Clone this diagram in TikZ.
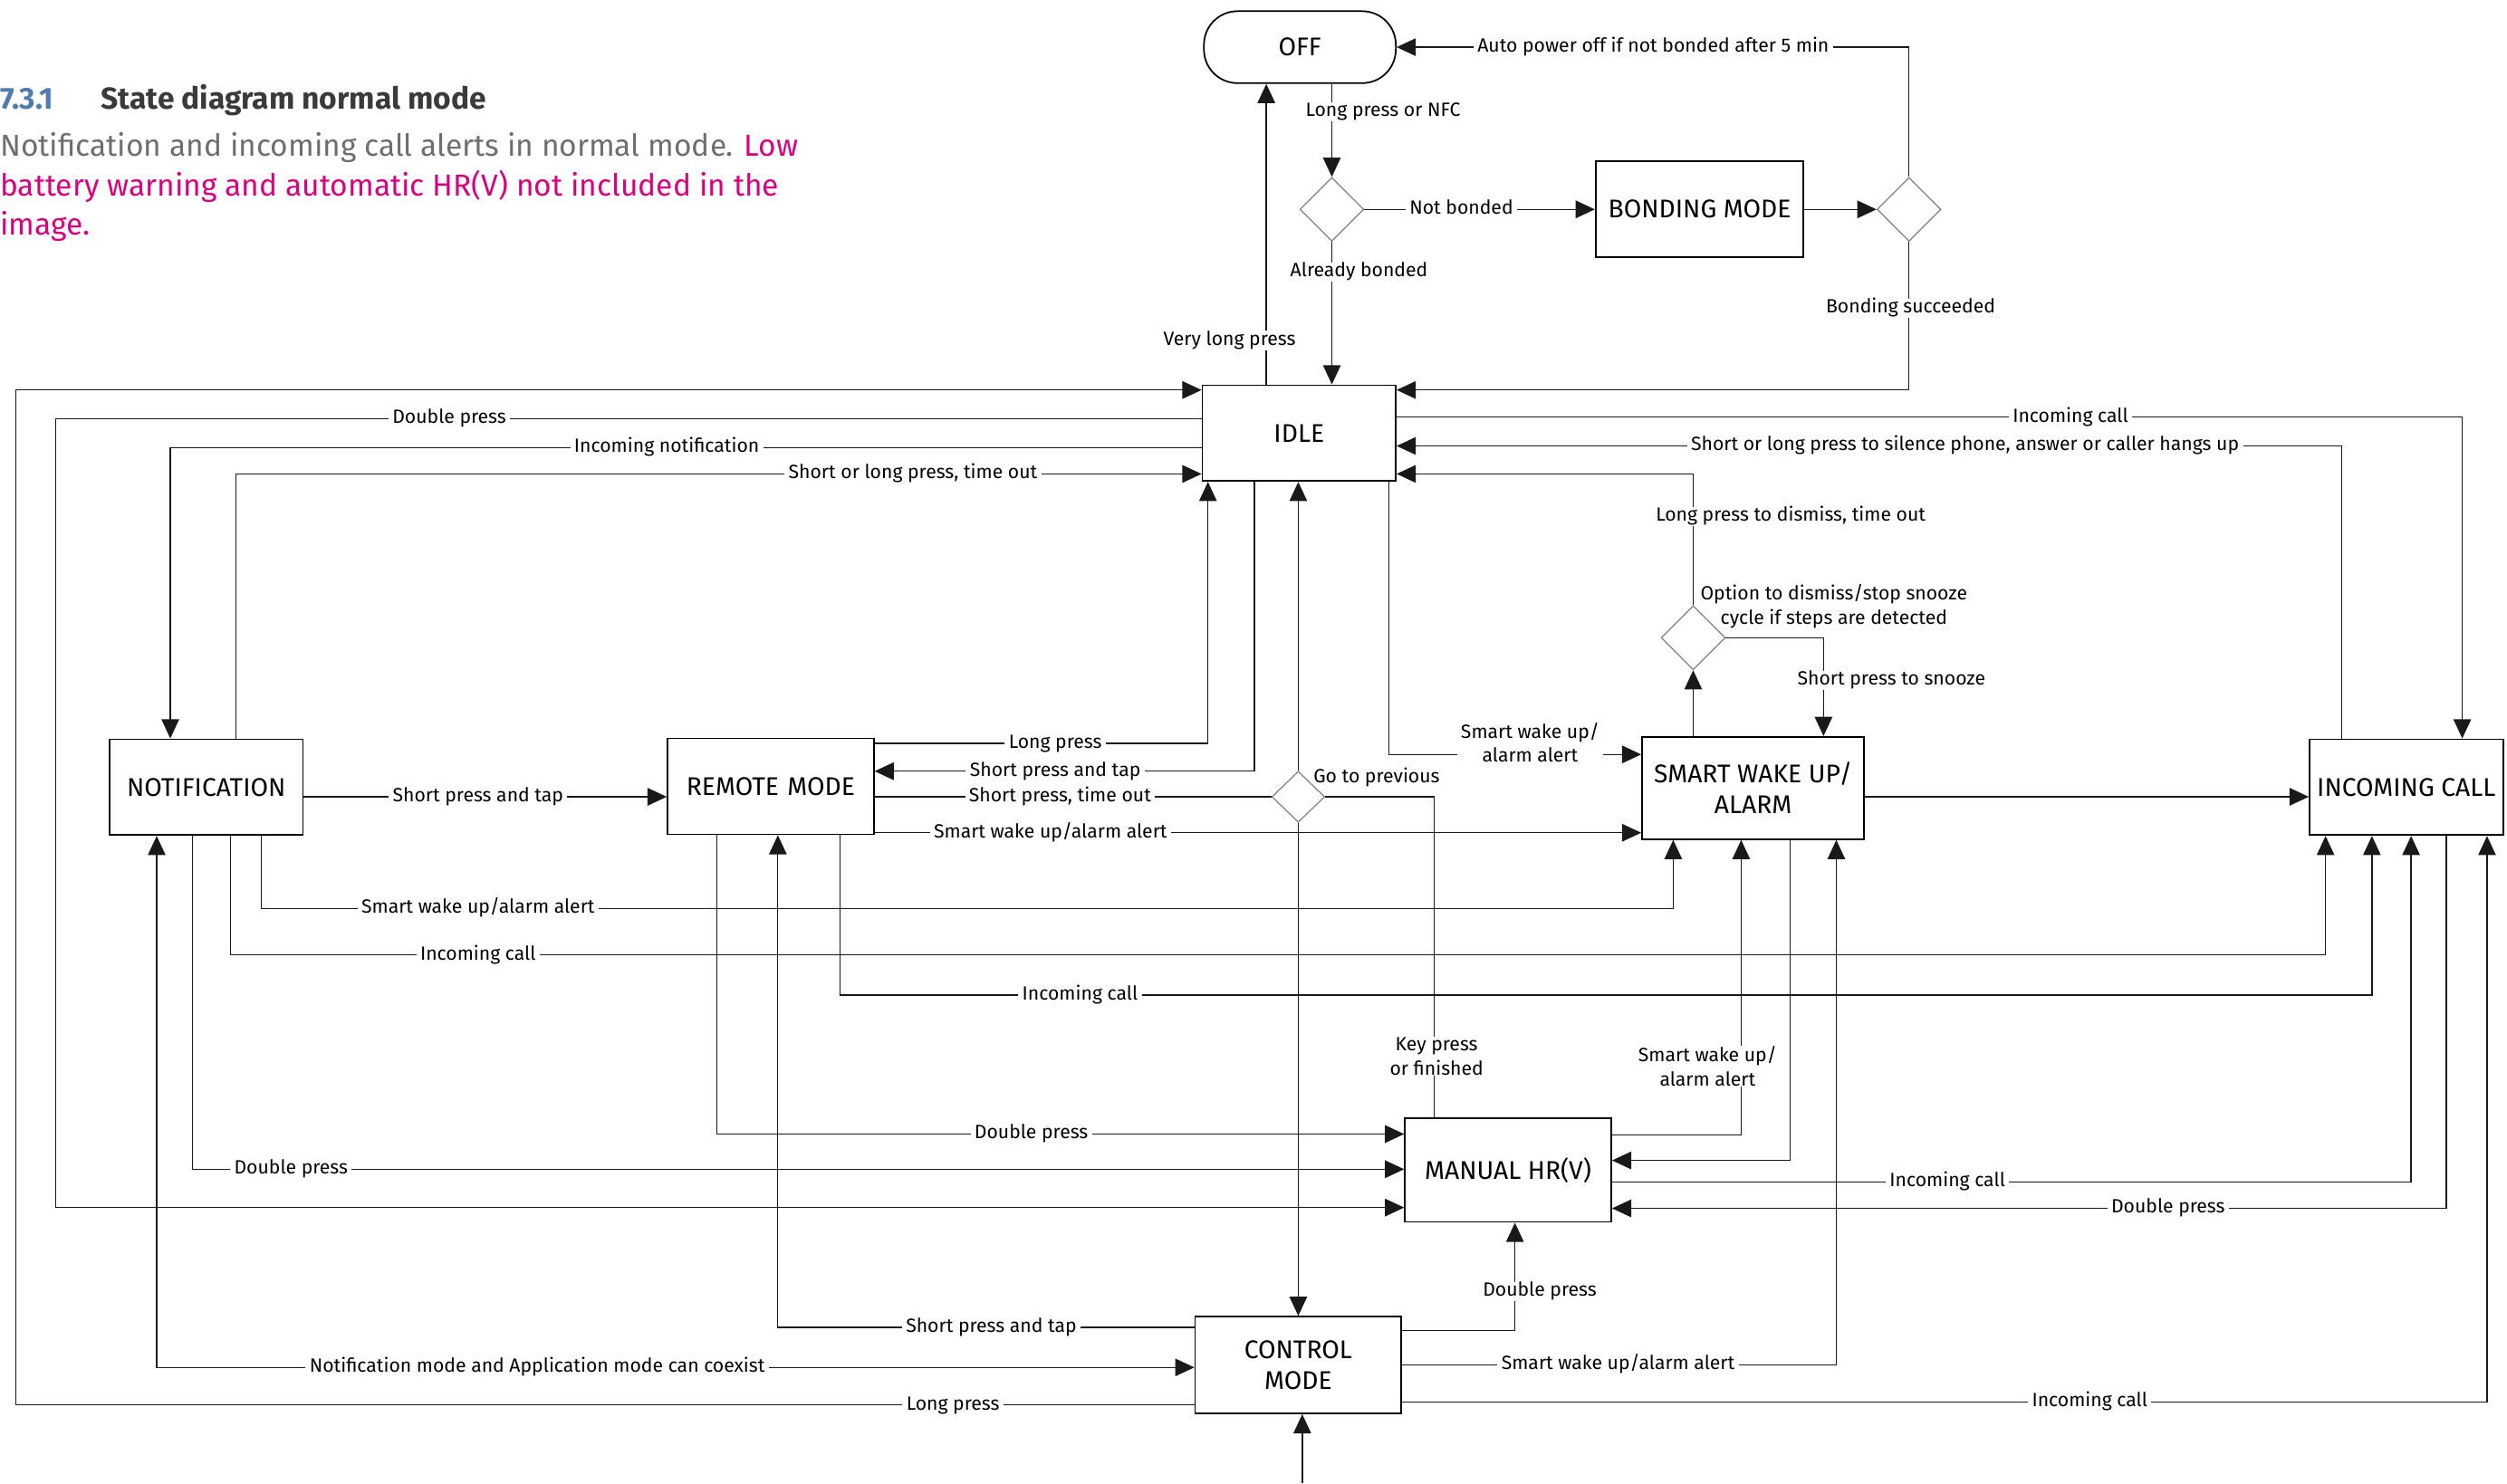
\documentclass[tikz,border=0pt]{standalone}
\usepackage{fontspec}
\setmainfont{Fira Sans}
\usetikzlibrary{arrows.meta,shapes.geometric}
\definecolor{numblue}{HTML}{4F7CAC}
\definecolor{ttlgray}{HTML}{3A3A3A}
\definecolor{bodygray}{HTML}{6E6E6E}
\definecolor{hotpink}{HTML}{D9007E}
\tikzset{
  box/.style={draw=black, line width=1pt, inner sep=0pt, align=center, font=\fontsize{16}{19.5}\selectfont},
  dia/.style={diamond, draw=black!50, line width=0.7pt, inner sep=0pt, minimum width=40pt, minimum height=40pt},
  ln/.style={line width=0.75pt, draw=black!90},
  arr/.style={ln, -{Triangle[length=12pt,width=11pt]}},
  dbl/.style={ln, {Triangle[length=12pt,width=11pt]}-{Triangle[length=12pt,width=11pt]}},
  lbl/.style={fill=white, inner xsep=2.5pt, inner ysep=0.5pt, text height=8.5pt, text depth=2.5pt, font=\fontsize{12}{14}\selectfont},
  lbltwo/.style={fill=white, inner xsep=2.5pt, inner ysep=0.5pt, align=center, font=\fontsize{12}{15}\selectfont}
}
\begin{document}
\begin{tikzpicture}[x=1pt,y=-1pt]
\useasboundingbox (0,0) rectangle (1568,928);
% heading text
\node[anchor=base west, inner sep=0pt, text=numblue, font=\fontsize{19}{23}\selectfont\bfseries] (tnum) at (0,68) {7.3.1};
\node[anchor=base west, inner sep=0pt, text=ttlgray, font=\fontsize{19}{23}\selectfont\bfseries] (ttl) at (63,68) {State diagram normal mode};
\node[anchor=base west, inner sep=0pt, font=\fontsize{19}{23}\selectfont] (b1) at (0,98) {\textcolor{bodygray}{Notification and incoming call alerts in normal mode.} \textcolor{hotpink}{Low}};
\node[anchor=base west, inner sep=0pt, text=hotpink, font=\fontsize{19}{23}\selectfont] (b2) at (0,122.5) {battery warning and automatic HR(V) not included in the};
\node[anchor=base west, inner sep=0pt, text=hotpink, font=\fontsize{19}{23}\selectfont] (b3) at (0,147) {image.};

% states
\node[box, rounded corners=21pt, minimum width=120pt, minimum height=45pt] (off) at (813,29.5) {OFF};
\node[box, minimum width=130pt, minimum height=60pt] (bond) at (1063,131) {BONDING MODE};
\node[box, minimum width=121pt, minimum height=60pt] (idle) at (812.5,271) {IDLE};
\node[box, minimum width=121pt, minimum height=60pt] (notif) at (129,492.5) {NOTIFICATION};
\node[box, minimum width=129pt, minimum height=60pt] (remote) at (482,492) {REMOTE\,\,MODE};
\node[box, minimum width=139pt, minimum height=64pt] (smart) at (1096.5,493) {SMART WAKE UP/\\ALARM};
\node[box, minimum width=121pt, minimum height=60pt] (incoming) at (1505,492.5) {INCOMING CALL};
\node[box, minimum width=129pt, minimum height=65pt] (manual) at (943.25,732) {MANUAL HR(V)};
\node[box, minimum width=129pt, minimum height=60.5pt] (control) at (812,854) {CONTROL\\MODE};
\node[dia] (d1) at (833,131) {};
\node[dia] (d2) at (1194,131) {};
\node[dia] (d3) at (1059,399) {};
\node[dia, minimum width=33pt, minimum height=32pt] (d4) at (812,498.5) {};
\coordinate (bot) at (814.5,928);

% connectors
\draw[arr] (d1.north |- off.south) -- (d1.north);
\draw[arr] (d1.east) -- (bond.west);
\draw[arr] (bond.east) -- (d2.west);
\draw[arr] (d2.north) |- (off.east);
\draw[arr] (d2.south) |- (idle.east |- 0,244);
\draw[arr] (d1.south) -- (d1.south |- idle.north);
\draw[arr] (idle.north -| 792,0) -- (off.south -| 792,0);
\draw[arr] (control.west |- 0,879) -| (10,244) -- (idle.west |- 0,244);
\draw[arr] (idle.west |- 0,262) -| (35,755.5) -- (manual.west |- 0,755.5);
\draw[arr] (idle.west |- 0,280) -| (notif.north -| 106.5,0);
\draw[arr] (notif.north -| 147.5,0) |- (idle.west |- 0,296.5);
\draw[arr] (idle.east |- 0,261) -| (incoming.north -| 1540,0);
\draw[arr] (incoming.north -| 1464.5,0) |- (idle.east |- 0,279);
\draw[arr] (d3.north) |- (idle.east |- 0,296.5);
\draw[arr] (remote.east |- 0,465) -| (idle.south -| 755.5,0);
\draw[arr] (idle.south -| 784.5,0) |- (remote.east |- 0,482.5);
\draw[arr] (d4.north) -- (d4.north |- idle.south);
\draw[arr] (d4.south) -- (d4.south |- control.north);
\draw[ln] (remote.east |- 0,498.5) -- (d4.west);
\draw[ln] (manual.north -| 897,0) |- (d4.east);
\draw[arr] (idle.south -| 868.5,0) |- (smart.west |- 0,472);
\draw[arr] (smart.north -| d3.south) -- (d3.south);
\draw[arr] (d3.east) -| (smart.north -| 1140.5,0);
\draw[arr] (notif.east |- 0,498.5) -- (remote.west |- 0,498.5);
\draw[arr] (remote.east |- 0,521) -- (smart.west |- 0,521);
\draw[arr] (smart.east |- 0,498.5) -- (incoming.west |- 0,498.5);
\draw[dbl] (control.west |- 0,855.5) -| (notif.south -| 98,0);
\draw[arr] (notif.south -| 120.5,0) |- (manual.west |- 0,731.5);
\draw[arr] (notif.south -| 144,0) |- (1454.5,597.5) -- (incoming.south -| 1454.5,0);
\draw[arr] (notif.south -| 163.5,0) |- (1046.5,568.5) -- (smart.south -| 1046.5,0);
\draw[arr] (remote.south -| 448.5,0) |- (manual.west |- 0,709.5);
\draw[arr] (control.west |- 0,830.5) -| (remote.south -| 486.5,0);
\draw[arr] (remote.south -| 525.5,0) |- (1483.5,622.5) -- (incoming.south -| 1483.5,0);
\draw[arr] (manual.east |- 0,710) -| (smart.south -| 1089,0);
\draw[arr] (smart.south -| 1119.5,0) |- (manual.east |- 0,726);
\draw[arr] (control.east |- 0,854) -| (smart.south -| 1148.5,0);
\draw[arr] (manual.east |- 0,739.5) -| (incoming.south -| 1508,0);
\draw[arr] (incoming.south -| 1530,0) |- (manual.east |- 0,756);
\draw[arr] (control.east |- 0,877) -| (incoming.south -| 1555.5,0);
\draw[arr] (control.east |- 0,832.5) -| (manual.south -| 947.5,0);
\draw[arr] (bot) -- (bot |- control.south);

% labels
\node[lbl] (l01) at (865,70) {Long press or NFC};
\node[lbl] (l02) at (914,131) {Not bonded};
\node[lbl] (l03) at (1034,29.5) {Auto power off if not bonded after 5 min};
\node[lbl] (l04) at (1195,193) {Bonding succeeded};
\node[lbl] (l05) at (850,170) {Already bonded};
\node[lbl] (l06) at (769,213) {Very long press};
\node[lbl] (l07) at (596,879) {Long press};
\node[lbl] (l08) at (281,262) {Double press};
\node[lbl] (l09) at (417,280) {Incoming notification};
\node[lbl] (l10) at (571,296.5) {Short or long press, time out};
\node[lbl] (l11) at (1295,261) {Incoming call};
\node[lbl] (l12) at (1229,279) {Short or long press to silence phone, answer or caller hangs up};
\node[lbl] (l13) at (1120,323) {Long press to dismiss, time out};
\node[lbl] (l14) at (660,465) {Long press};
\node[lbl] (l15) at (660,482.5) {Short press and tap};
\node[lbl] (l16) at (663,498.5) {Short press, time out};
\node[lbl, fill=none] (l17) at (861,486.5) {Go to previous};
\node[lbltwo] (l18) at (898.5,661) {Key press\\or finished};
\node[lbltwo] (l19) at (957,464.5) {Smart wake up/\\alarm alert};
\node[lbl] (l20) at (1183,425.5) {Short press to snooze};
\node[lbltwo, fill=none] (l21) at (1147,379.5) {Option to dismiss/stop snooze\\cycle if steps are detected};
\node[lbl] (l22) at (299,498.5) {Short press and tap};
\node[lbl] (l23) at (657,521) {Smart wake up/alarm alert};
\node[lbl] (l24) at (336,855.5) {Notification mode and Application mode can coexist};
\node[lbl] (l25) at (182,731.5) {Double press};
\node[lbl] (l26) at (299,597.5) {Incoming call};
\node[lbl] (l27) at (299,568.5) {Smart wake up/alarm alert};
\node[lbl] (l28) at (645,709.5) {Double press};
\node[lbl] (l29) at (620,830.5) {Short press and tap};
\node[lbl] (l30) at (675.5,622.5) {Incoming call};
\node[lbltwo] (l31) at (1068,667) {Smart wake up/\\alarm alert};
\node[lbl] (l32) at (1012,854) {Smart wake up/alarm alert};
\node[lbl] (l33) at (1218,739.5) {Incoming call};
\node[lbl] (l34) at (1356,756) {Double press};
\node[lbl] (l35) at (1307,877) {Incoming call};
\node[lbl] (l36) at (963,808) {Double press};
\end{tikzpicture}
\end{document}
